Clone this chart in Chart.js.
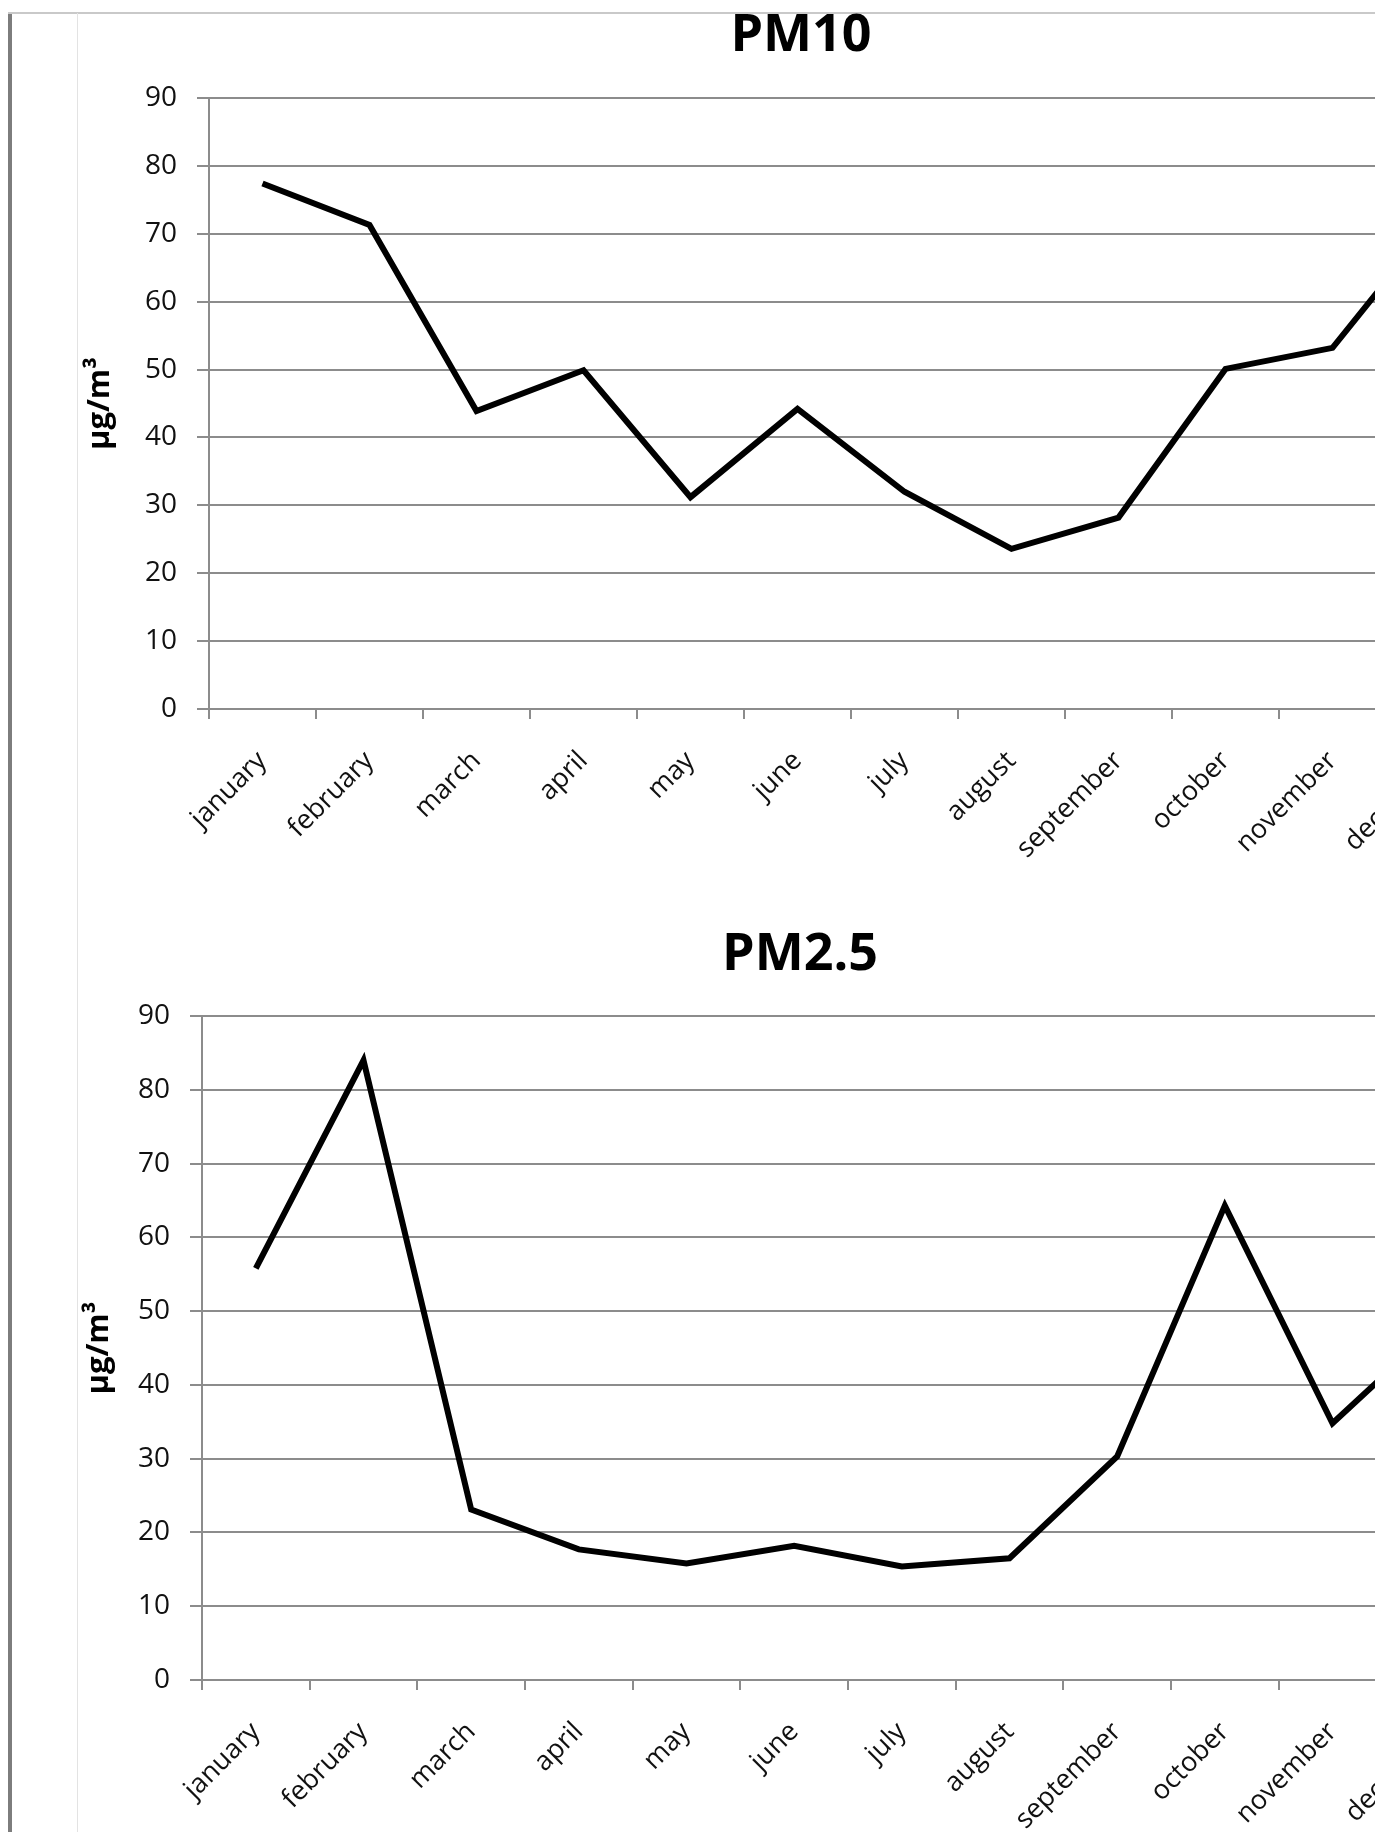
<!DOCTYPE html>
<html>
<head>
<meta charset="utf-8">
<title>PM10 / PM2.5</title>
<script src="https://cdn.jsdelivr.net/npm/chart.js@4.4.0/dist/chart.umd.min.js"></script>
<style>
    html, body { margin: 0; padding: 0; background: #fff; }
    body { position: relative; width: 1375px; height: 1832px; overflow: hidden; }
    .frame-left { position: absolute; left: 8px; top: 12px; width: 4px; height: 1820px; background: #7d7d7d; }
    .frame-top { position: absolute; left: 8px; top: 12px; width: 1367px; height: 2px; background: #c9c9c9; }
    .frame-inner { position: absolute; left: 77px; top: 13px; width: 1px; height: 1819px; background: #e3e3e3; }
    canvas { position: absolute; }
    #pm10Chart { left: 77px; top: 5px; }
    #pm25Chart { left: 70px; top: 924px; }
</style>
</head>
<body>
<div class="frame-left"></div>
<div class="frame-top"></div>
<div class="frame-inner"></div>
<canvas id="pm10Chart" width="1448" height="884"></canvas>
<canvas id="pm25Chart" width="1460" height="936"></canvas>

<script>
// Monthly concentrations (µg/m³)
const months = ['january', 'february', 'march', 'april', 'may', 'june',
                'july', 'august', 'september', 'october', 'november', 'december'];
const pm10Values = [77.4, 71.3, 43.9, 49.9, 31.2, 44.2, 32.0, 23.6, 28.2, 50.1, 53.2, 72.8];
const pm25Values = [55.8, 84.0, 23.1, 17.7, 15.8, 18.2, 15.4, 16.5, 30.3, 64.3, 34.8, 48.3];
const yMin = 0;
const yMax = 90;
const yStep = 10;
const unitLabel = 'µg/m³';

const FONT = "'Open Sans', 'DejaVu Sans', sans-serif";
const GRID = '#8c8c8c';

// rightGap: empty strip right of the plot (the picture is cropped there anyway),
// kept as a blank axis so the title stays centred on the whole figure
function buildChart(canvasId, titleText, values, titlePadBottom, rightGap, unitPad) {
    const ctx = document.getElementById(canvasId);
    return new Chart(ctx, {
        type: 'line',
        data: {
            labels: months,
            datasets: [{
                label: titleText,
                data: values,
                borderColor: '#000',
                borderWidth: 6,
                pointRadius: 0,
                tension: 0,
                fill: false
            }]
        },
        options: {
            responsive: false,
            animation: false,
            layout: { padding: 0 },
            plugins: {
                legend: { display: false },
                tooltip: { enabled: false },
                title: {
                    display: true,
                    text: titleText,
                    color: '#000',
                    font: { family: FONT, size: 52, weight: 'bold' },
                    padding: { top: 0, bottom: titlePadBottom }
                }
            },
            scales: {
                x: {
                    offset: true,
                    grid: {
                        offset: true,
                        drawOnChartArea: false,
                        drawTicks: true,
                        tickLength: 10,
                        color: GRID,
                        lineWidth: 2
                    },
                    border: { color: GRID, width: 2 },
                    ticks: {
                        autoSkip: false,
                        minRotation: 45,
                        maxRotation: 45,
                        padding: 26,
                        color: '#111',
                        font: { family: FONT, size: 27 }
                    },
                    afterFit: (scale) => { scale.height = 180; }
                },
                y: {
                    min: yMin,
                    max: yMax,
                    ticks: {
                        stepSize: yStep,
                        padding: 20,
                        color: '#111',
                        font: { family: FONT, size: 28 }
                    },
                    grid: { color: GRID, lineWidth: 2, tickLength: 12 },
                    border: { color: GRID, width: 2 },
                    title: {
                        display: true,
                        text: unitLabel,
                        color: '#000',
                        font: { family: FONT, size: 31, weight: 'bold' },
                        padding: { top: unitPad, bottom: 0 }
                    },
                    afterFit: (scale) => { scale.width = 132; }
                },
                gap: {
                    position: 'right',
                    grid: { display: false },
                    border: { display: false },
                    ticks: { display: false },
                    afterFit: (scale) => { scale.width = rightGap; }
                }
            }
        }
    });
}

buildChart('pm10Chart', 'PM10', pm10Values, 30.6, 32, 5);
buildChart('pm25Chart', 'PM2.5', pm25Values, 29.6, 36, 11);
</script>
</body>
</html>
